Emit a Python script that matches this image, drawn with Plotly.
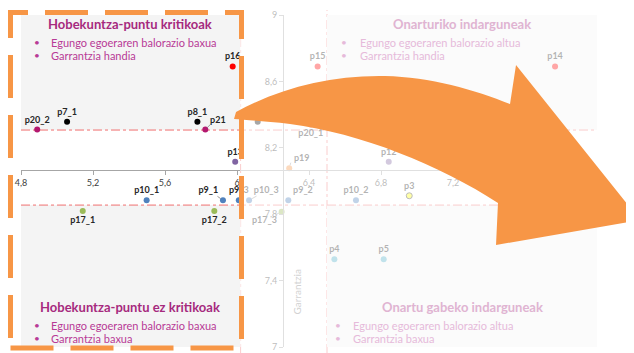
import plotly.graph_objects as go

# puntuak: egungo egoeraren balorazioa (x) eta garrantzia (y)
izenak = ["p16", "p15", "p14",
          "p7_1", "p8_1", "p8_2",
          "p20_2", "p21", "p20_1",
          "p13", "p12",
          "p10_1", "p9_1", "p9_3", "p10_3", "p9_2", "p10_2",
          "p17_1", "p17_2", "p17_3",
          "p19", "p3", "p4", "p5"]
balorazioa = [5.976, 6.448, 7.767,
              5.056, 5.78, 6.115,
              4.89, 5.824, 6.41,
              5.99, 6.843,
              5.498, 5.922, 6.01, 6.067, 6.285, 6.661,
              5.143, 5.874, 6.248,
              6.29, 6.957, 6.541, 6.815]
garrantzia = [8.69, 8.69, 8.69,
              8.357, 8.357, 8.357,
              8.31, 8.31, 8.34,
              8.116, 8.116,
              7.884, 7.884, 7.884, 7.884, 7.884, 7.884,
              7.819, 7.819, 7.815,
              8.077, 7.911, 7.528, 7.528]
taldeak = ["gorria"] * 3 + ["beltza"] * 3 + ["magenta"] * 3 + ["morea"] * 2 + \
          ["urdina"] * 6 + ["berdea"] * 3 + ["laranja", "horia", "urdinargia", "urdinargia"]

x_ticks = [4.8, 5.2, 5.6, 6.0, 6.4, 6.8, 7.2, 7.6, 8.0]
y_ticks = [7.0, 7.4, 7.8, 8.2, 8.6, 9.0]
x_banda = [6.02, 6.5]       # koadranteen arteko marra bertikalak
y_banda = [7.855, 8.307]    # koadranteen arteko marra horizontalak
x_gurutze = 6.256           # ardatzak gurutzatzen diren lekua
y_gurutze = 8.066

koadrante_izenburuak = ["Hobekuntza-puntu kritikoak", "Hobekuntza-puntu ez kritikoak",
                        "Onarturiko indarguneak", "Onartu gabeko indarguneak"]
koadrante_buletak = [["Egungo egoeraren balorazio baxua", "Garrantzia handia"],
                     ["Egungo egoeraren balorazio baxua", "Garrantzia baxua"],
                     ["Egungo egoeraren balorazio altua", "Garrantzia handia"],
                     ["Egungo egoeraren balorazio altua", "Garrantzia baxua"]]

# --- estiloa ---
OFF = 8                      # orriaren (body) marjina
W, H = 634 - OFF, 353 - OFF
L, R, T, B = 21 - OFF, 37, 15 - OFF, 6
XR = [4.8, 8.0]
YR = [7.0, 9.0]
FONT = "Lato"

koloreak = {"gorria": "#ff0000", "beltza": "#000000", "magenta": "#b3186f",
            "morea": "#8064a2", "urdina": "#4f81bd", "berdea": "#9bbb59",
            "laranja": "#f79646", "horia": "#ffff00", "urdinargia": "#4bacc6"}
testu_pos = {"p21": "top right", "p9_1": "top left", "p10_3": "top right",
             "p9_2": "top right", "p19": "top right", "p17_1": "bottom center",
             "p17_2": "bottom center", "p17_3": "bottom left", "p20_1": "bottom center"}
gida_marrak = {"p21": (7, -7), "p9_1": (-7, -5), "p10_3": (9, -5), "p19": (2, -7), "p17_3": (-8, 4)}
FADE = 0.65


def px(x):
    return (x - 21) / 576


def py(y):
    return (347 - y) / 332


def fade(c, a=FADE):
    c = c.lstrip("#")
    rgb = [int(c[i:i + 2], 16) for i in (0, 2, 4)]
    return "#" + "".join("%02x" % round(v * (1 - a) + 255 * a) for v in rgb)


fig = go.Figure()

for taldea, kolorea in koloreak.items():
    idx = [i for i, t in enumerate(taldeak) if t == taldea]
    fig.add_trace(go.Scatter(
        x=[balorazioa[i] for i in idx], y=[garrantzia[i] for i in idx],
        text=[izenak[i] for i in idx],
        textposition=[testu_pos.get(izenak[i], "top center") for i in idx],
        mode="markers+text",
        marker=dict(size=6, color=kolorea,
                    line=dict(width=1 if taldea == "horia" else 0, color="#404040")),
        textfont=dict(family=FONT, size=9, color="#262626", weight="bold"),
        showlegend=False, hoverinfo="skip", cliponaxis=False))

shapes = []
# koadranteen atzealde grisak
gris = "#f4f4f4"
for x0, x1 in [(XR[0], x_banda[0]), (x_banda[1], XR[1])]:
    shapes.append(dict(type="rect", xref="x", yref="y", x0=x0, x1=x1, y0=y_banda[1], y1=9.03,
                       fillcolor=gris, line_width=0, layer="below"))
    shapes.append(dict(type="rect", xref="x", yref="y", x0=x0, x1=x1, y0=6.98, y1=y_banda[0],
                       fillcolor=gris, line_width=0, layer="below"))
# marra puntu-marrak
for xv in x_banda:
    shapes.append(dict(type="line", xref="x", yref="paper", x0=xv, x1=xv, y0=py(353), y1=py(10),
                       line=dict(color="#f07070", width=1, dash="dashdot"), layer="below"))
for yv in y_banda:
    shapes.append(dict(type="line", xref="x", yref="y", x0=XR[0], x1=XR[1], y0=yv, y1=yv,
                       line=dict(color="#f07070", width=1, dash="dashdot"), layer="below"))
# eskuineko aldea ahuldu
shapes.append(dict(type="rect", xref="paper", yref="paper", x0=px(240), x1=px(640),
                   y0=py(360), y1=py(-5), fillcolor="white", opacity=FADE, line_width=0, layer="above"))
# ertz laranja
shapes.append(dict(type="rect", xref="paper", yref="paper", x0=px(10.5), x1=px(241.5),
                   y0=py(348), y1=py(12.5), line=dict(color="#f79646", width=5, dash="43px,17px"),
                   layer="above"))
# gezi laranja
pts = [("M", [(236, 112)]),
       ("C", [(280, 88), (330, 75), (385, 76)]),
       ("C", [(430, 77), (475, 90), (510, 104)]),
       ("L", [(516, 65)]), ("L", [(640, 220)]), ("L", [(496, 245)]), ("L", [(498, 203)]),
       ("C", [(440, 165), (360, 133), (290, 124)]),
       ("C", [(265, 121), (245, 120), (234, 119)])]
path = " ".join(c + " " + " ".join("%.4f,%.4f" % (px(a), py(b)) for a, b in p) for c, p in pts) + " Z"
shapes.append(dict(type="path", xref="paper", yref="paper", path=path,
                   fillcolor="#f79646", line_width=0, layer="above"))

annotations = []
# etiketen gida-marrak
for i, izena in enumerate(izenak):
    if izena in gida_marrak:
        dx, dy = gida_marrak[izena]
        eskuin = (balorazioa[i] - XR[0]) / (XR[1] - XR[0]) * 576 + 21 > 240
        annotations.append(dict(x=balorazioa[i], y=garrantzia[i], xref="x", yref="y", text="",
                                showarrow=True, arrowhead=0, arrowwidth=0.8, standoff=3,
                                arrowcolor=fade("#7f7f7f") if eskuin else "#7f7f7f", ax=dx, ay=dy))

izen_kol = "#a62a7e"
bulet_kol = "#b83a96"
kokapenak = [(130, 24, 37, 49), (130, 307, 37, 49), (462, 24, 344, 358), (462, 307, 338, 351)]
for k, (izb, bul) in enumerate(zip(koadrante_izenburuak, koadrante_buletak)):
    cx, cy, bx, tx = kokapenak[k]
    f = fade if k >= 2 else (lambda c: c)
    annotations.append(dict(x=px(cx), y=py(cy), xref="paper", yref="paper", text="<b>%s</b>" % izb,
                            showarrow=False, xanchor="center", yanchor="middle",
                            font=dict(family=FONT, size=13, color=f(izen_kol))))
    for j, lerroa in enumerate(bul):
        yy = py(cy + 18 + 13 * j)
        annotations.append(dict(x=px(bx), y=yy, xref="paper", yref="paper", text="•",
                                showarrow=False, xanchor="center", yanchor="middle",
                                font=dict(family=FONT, size=10, color=f(bulet_kol))))
        annotations.append(dict(x=px(tx), y=yy, xref="paper", yref="paper", text=lerroa,
                                showarrow=False, xanchor="left", yanchor="middle",
                                font=dict(family=FONT, size=11, color=f(bulet_kol))))
annotations.append(dict(x=px(296), y=py(317), xref="paper", yref="paper", text="Garrantzia",
                        textangle=-90, showarrow=False, font=dict(family=FONT, size=10, color=fade("#7f7f7f"))))

ax_style = dict(showline=True, linecolor="#a6a6a6", linewidth=1, ticks="outside", ticklen=4,
                tickcolor="#a6a6a6", showgrid=False, zeroline=False, automargin=False,
                tickfont=dict(family=FONT, size=9, color="#404040"))
fig.update_layout(
    width=W, height=H, margin=dict(l=L, r=R, t=T, b=B, autoexpand=False),
    paper_bgcolor="white", plot_bgcolor="white", separators=",.",
    xaxis=dict(range=XR, tickvals=x_ticks, anchor="free",
               position=(y_gurutze - YR[0]) / (YR[1] - YR[0]), **ax_style),
    yaxis=dict(range=YR, tickvals=y_ticks, anchor="free",
               position=(x_gurutze - XR[0]) / (XR[1] - XR[0]), **ax_style),
    shapes=shapes, annotations=annotations)

fig.write_html("out.html")
